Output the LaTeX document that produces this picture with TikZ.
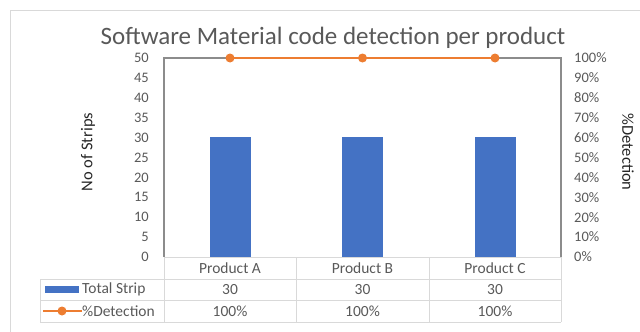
\documentclass[tikz,border=0pt]{standalone}
\usepackage{fontspec}
\setmainfont{Carlito}
\usetikzlibrary{positioning}
\definecolor{barBlue}{HTML}{4472C4}
\definecolor{lineOrange}{HTML}{ED7D31}
\definecolor{labelGray}{HTML}{595959}
\definecolor{gridGray}{HTML}{D9D9D9}
\definecolor{axisGray}{HTML}{8C8C8C}

\begin{document}
\begin{tikzpicture}[
        x=1pt, y=-1pt,
        tickLabel/.style={text=labelGray, inner sep=0pt, font=\fontsize{14.5}{16}\selectfont},
        cellText/.style={text=labelGray, inner sep=0pt, font=\fontsize{15.5}{17}\selectfont},
        axisTitle/.style={text=black!85, inner sep=0pt, font=\fontsize{16.5}{19}\selectfont},
        barNode/.style={fill=barBlue, minimum width=41pt, inner sep=0pt, anchor=south},
        markNode/.style={circle, fill=lineOrange, minimum size=9pt, inner sep=0pt},
        seriesLine/.style={lineOrange, line width=2.8pt},
        gridLine/.style={gridGray, line width=1pt}
    ]
        \useasboundingbox (0,0) rectangle (640,332);
        % Frame and title
        \draw[gridLine] (10,332) -- (10,10) -- (640,10);
        \node[text=labelGray, anchor=base, font=\fontsize{25}{30}\selectfont] (title) at (333,44) {Software Material code detection per product};

        % Axes
        \foreach \v [count=\i from 0] in {0,5,...,50}
            \node[tickLabel, anchor=east] (yl\i) at (149,257-\i*19.9) {\v};
        \foreach \p [count=\i from 0] in {0,10,...,100}
            \node[tickLabel, anchor=west] (yr\i) at (574,257-\i*19.9) {\p\%};
        \node[axisTitle, rotate=90] (leftTitle) at (88,152) {No of Strips};
        \node[axisTitle, rotate=-90] (rightTitle) at (628,152) {\%Detection};

        % Bars
        \node[barNode, minimum height=119.4pt] (barA) at (230,257) {};
        \node[barNode, minimum height=119.4pt] (barB) at (362.5,257) {};
        \node[barNode, minimum height=119.4pt] (barC) at (495,257) {};

        % Plot border
        \draw[axisGray, line width=1.2pt] (164,257) -- (164,58) -- (561,58) -- (561,257);

        % Detection line
        \coordinate (pA) at (230,58);
        \coordinate (pB) at (362.5,58);
        \coordinate (pC) at (495,58);
        \draw[seriesLine] (pA) -- (pB) -- (pC);
        \node[markNode] (mA) at (pA) {};
        \node[markNode] (mB) at (pB) {};
        \node[markNode] (mC) at (pC) {};

        % Data table
        \draw[gridLine] (164,257) -- (561,257);
        \draw[gridLine] (40,279) -- (561,279);
        \draw[gridLine] (40,300.5) -- (561,300.5);
        \draw[gridLine] (40,322) -- (561,322);
        \draw[gridLine] (40,279) -- (40,322);
        \draw[gridLine] (164,257) -- (164,322);
        \draw[gridLine] (296,257) -- (296,322);
        \draw[gridLine] (429,257) -- (429,322);
        \draw[gridLine] (561,257) -- (561,322);

        \node[cellText] (catA) at (230,268) {Product A};
        \node[cellText] (catB) at (362.5,268) {Product B};
        \node[cellText] (catC) at (495,268) {Product C};

        % Legend keys
        \node[fill=barBlue, minimum width=34pt, minimum height=7pt, inner sep=0pt] (keyBar) at (62,289) {};
        \node[cellText, anchor=west] (keyBarText) at (82,289.5) {Total Strip};
        \coordinate (keyL) at (43,311);
        \coordinate (keyR) at (82,311);
        \draw[seriesLine] (keyL) -- (keyR);
        \node[markNode] (keyMark) at (62,311) {};
        \node[cellText, anchor=west] (keyLineText) at (82,311) {\%Detection};

        % Values
        \node[cellText] (stripA) at (230,289.5) {30};
        \node[cellText] (stripB) at (362.5,289.5) {30};
        \node[cellText] (stripC) at (495,289.5) {30};
        \node[cellText] (detA) at (230,311) {100\%};
        \node[cellText] (detB) at (362.5,311) {100\%};
        \node[cellText] (detC) at (495,311) {100\%};
    \end{tikzpicture}
\end{document}
